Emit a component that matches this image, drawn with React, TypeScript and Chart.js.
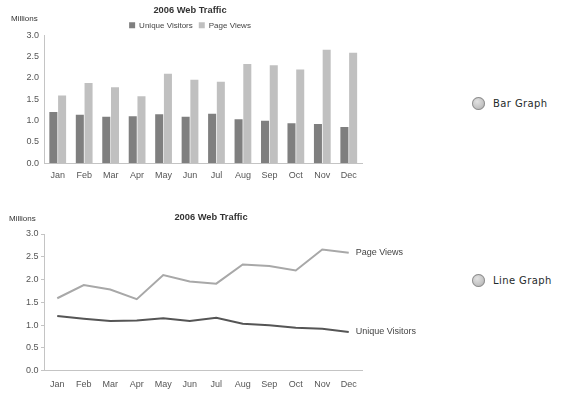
import React, { useEffect, useRef } from "react";
import { Chart, registerables } from "chart.js";

Chart.register(...registerables);

const months = ["Jan", "Feb", "Mar", "Apr", "May", "Jun", "Jul", "Aug", "Sep", "Oct", "Nov", "Dec"];
const uniqueVisitors = [1.2, 1.14, 1.09, 1.1, 1.15, 1.09, 1.16, 1.03, 1.0, 0.94, 0.92, 0.85];
const pageViews = [1.59, 1.88, 1.78, 1.57, 2.1, 1.96, 1.91, 2.33, 2.3, 2.2, 2.66, 2.59];
const yTicks = [0, 0.5, 1.0, 1.5, 2.0, 2.5, 3.0];
const chartTitle = "2006 Web Traffic";
const unitLabel = "Millions";
const seriesNames = ["Unique Visitors", "Page Views"];

const FONT = "'Liberation Sans', Arial, sans-serif";
const TICK_COLOR = "#555";
const AXIS_COLOR = "#c4c4c4";

function millionsPlugin(x: number, y: number) {
  return {
    id: "millions",
    afterDraw(chart: any) {
      const ctx = chart.ctx;
      ctx.save();
      ctx.font = `8px ${FONT}`;
      ctx.fillStyle = "#333";
      ctx.textAlign = "left";
      ctx.textBaseline = "middle";
      ctx.fillText(unitLabel, x, y);
      ctx.restore();
    },
  };
}

const endLabelsPlugin = {
  id: "endLabels",
  afterDatasetsDraw(chart: any) {
    const ctx = chart.ctx;
    ctx.save();
    ctx.font = `9px ${FONT}`;
    ctx.fillStyle = "#444";
    ctx.textAlign = "left";
    ctx.textBaseline = "middle";
    chart.data.datasets.forEach((ds: any, i: number) => {
      const meta = chart.getDatasetMeta(i);
      const last = meta.data[meta.data.length - 1];
      if (last) ctx.fillText(ds.label, last.x + 7, last.y);
    });
    ctx.restore();
  },
};

function yScale(width: number, withTicks: boolean, pad: number) {
  return {
    min: 0,
    max: 3,
    afterFit(scale: any) {
      scale.width = width;
    },
    afterBuildTicks(scale: any) {
      scale.ticks = yTicks.map((v) => ({ value: v }));
    },
    grid: {
      display: withTicks,
      drawOnChartArea: false,
      drawTicks: withTicks,
      tickLength: 3,
      color: AXIS_COLOR,
    },
    border: { display: true, color: AXIS_COLOR, width: 1 },
    ticks: {
      padding: pad,
      color: TICK_COLOR,
      font: { family: FONT, size: 9 },
      callback: (v: any) => Number(v).toFixed(1),
    },
  };
}

function xScale(height: number, pad: number, rightGap: number) {
  return {
    offset: true,
    afterFit(scale: any) {
      scale.height = height;
      scale.paddingRight = rightGap;
    },
    grid: { display: false, drawTicks: false },
    border: { display: true, color: AXIS_COLOR, width: 1 },
    ticks: {
      padding: pad,
      color: TICK_COLOR,
      font: { family: FONT, size: 9 },
      maxRotation: 0,
      autoSkip: false,
    },
  };
}

function BarChart() {
  const ref = useRef<HTMLCanvasElement>(null);
  useEffect(() => {
    const chart = new Chart(ref.current!, {
      type: "bar",
      data: {
        labels: months,
        datasets: [
          {
            label: seriesNames[0],
            data: uniqueVisitors,
            backgroundColor: "#7f7f7f",
            barPercentage: 0.92,
            categoryPercentage: 0.66,
          },
          {
            label: seriesNames[1],
            data: pageViews,
            backgroundColor: "#c0c0c0",
            barPercentage: 0.92,
            categoryPercentage: 0.66,
          },
        ],
      },
      options: {
        responsive: false,
        animation: false,
        layout: { padding: 0 },
        plugins: {
          title: {
            display: true,
            text: chartTitle,
            color: "#333",
            font: { family: FONT, size: 9.3, weight: "bold", lineHeight: 1 },
            padding: { top: 6, bottom: 0 },
          },
          legend: {
            display: true,
            maxHeight: 20,
            labels: {
              boxWidth: 6,
              boxHeight: 6,
              padding: 6,
              color: "#444",
              font: { family: FONT, size: 8 },
            },
          },
          tooltip: { enabled: false },
        },
        scales: {
          x: xScale(26.7, 7.3, 18),
          y: yScale(44.5, false, 5.5),
        },
      },
      plugins: [millionsPlugin(11, 18.3)],
    } as any);
    return () => chart.destroy();
  }, []);
  return <canvas ref={ref} width={380} height={190} style={{ position: "absolute", left: 0, top: 0 }} />;
}

function LineChart() {
  const ref = useRef<HTMLCanvasElement>(null);
  useEffect(() => {
    const chart = new Chart(ref.current!, {
      type: "line",
      data: {
        labels: months,
        datasets: [
          {
            label: seriesNames[1],
            data: pageViews,
            borderColor: "#a8a8a8",
            borderWidth: 2,
            pointRadius: 0,
            tension: 0,
            fill: false,
          },
          {
            label: seriesNames[0],
            data: uniqueVisitors,
            borderColor: "#555555",
            borderWidth: 2,
            pointRadius: 0,
            tension: 0,
            fill: false,
          },
        ],
      },
      options: {
        responsive: false,
        animation: false,
        layout: { padding: 0 },
        plugins: {
          title: {
            display: true,
            text: chartTitle,
            color: "#333",
            font: { family: FONT, size: 9.3, weight: "bold", lineHeight: 1 },
            padding: { top: 12.7, bottom: 12 },
          },
          legend: { display: false },
          tooltip: { enabled: false },
        },
        scales: {
          x: xScale(25.3, 8.2, 60),
          y: yScale(44, true, 2.5),
        },
      },
      plugins: [millionsPlugin(9, 18.3), endLabelsPlugin],
    } as any);
    return () => chart.destroy();
  }, []);
  return <canvas ref={ref} width={422} height={196} style={{ position: "absolute", left: 0, top: 200 }} />;
}

function RadioLabel({ top, text }: { top: number; text: string }) {
  return (
    <div
      style={{
        position: "absolute",
        left: 472,
        top: top - 7,
        height: 14,
        display: "flex",
        alignItems: "center",
        fontFamily: "'DejaVu Sans', Verdana, sans-serif",
        fontSize: 10,
        letterSpacing: 0.4,
        color: "#1f2b2b",
        whiteSpace: "nowrap",
      }}
    >
      <span
        style={{
          display: "inline-block",
          width: 13,
          height: 13,
          borderRadius: "50%",
          background: "radial-gradient(circle at 40% 35%, #e2e2e2 0%, #c4c4c4 55%, #9a9a9a 100%)",
          boxShadow: "inset 0 0 0 1px #8e8e8e",
          marginRight: 8,
        }}
      />
      <span>{text}</span>
    </div>
  );
}

export default function App() {
  return (
    <div style={{ position: "absolute", left: 0, top: 0, width: 568, height: 396, background: "#fff" }}>
      <BarChart />
      <LineChart />
      <RadioLabel top={103} text="Bar Graph" />
      <RadioLabel top={280} text="Line Graph" />
    </div>
  );
}
